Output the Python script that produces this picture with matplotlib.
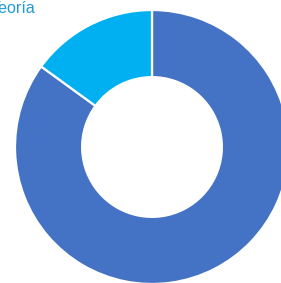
import matplotlib
matplotlib.use("Agg")
import matplotlib.pyplot as plt

categories = ["Serie A", "Serie B"]
values = [85, 15]
colors = ["#4472C4", "#00B0F0"]
title_text = "Teoría"

W, H = 281, 283
fig = plt.figure(figsize=(W / 100, H / 100), dpi=100)
ax = fig.add_axes([0, 0, 1, 1])

cx, cy, r = 152, H - 147, 137
ax.pie(values, colors=colors, startangle=90, counterclock=False,
       center=(cx, cy), radius=r, frame=True,
       wedgeprops=dict(width=r * 0.49, edgecolor="white", linewidth=1.6))
ax.set_xlim(0, W)
ax.set_ylim(0, H)
ax.set_aspect("equal")
ax.axis("off")

ax.text(35, H - 13, title_text, ha="right", va="baseline",
        fontsize=11.6, color="#1f9ad6", family=["Liberation Sans", "DejaVu Sans"])

fig.savefig("out.png", dpi=100)
